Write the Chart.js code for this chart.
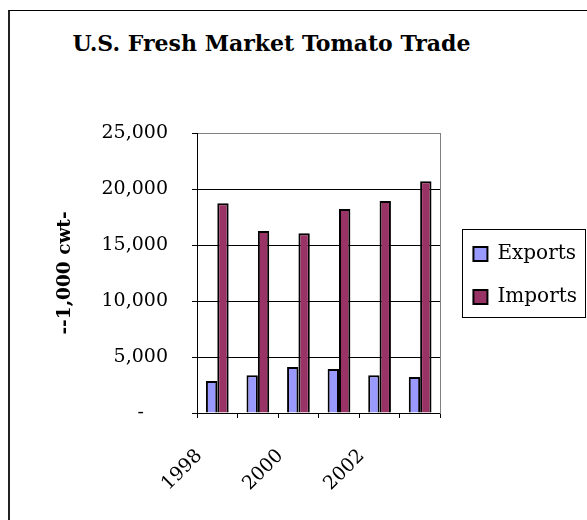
<!DOCTYPE html>
<html>
<head>
<meta charset="utf-8">
<script src="https://cdn.jsdelivr.net/npm/chart.js@4"></script>
<style>
  body { margin: 0; background: #fff; }
  #wrap { position: relative; width: 587px; height: 520px; overflow: hidden; }
  #frame { position: absolute; left: 8px; top: 10px; width: 620px; height: 560px;
           border-top: 1px solid #000; border-left: 2px solid #222; }
  #title { position: absolute; left: 0; top: 30px; width: 543px; text-align: center;
           font: bold 22px "DejaVu Serif"; line-height: 26px; color: #000; }
  canvas { position: absolute; left: 0; top: 0; }
</style>
</head>
<body>
<div id="wrap">
  <div id="frame"></div>
  <div id="title">U.S. Fresh Market Tomato Trade</div>
  <canvas id="chart" width="587" height="520"></canvas>
</div>
<script>
const years = ["1998", "1999", "2000", "2001", "2002", "2003"];
const exportsCwt = [2860, 3360, 4110, 3930, 3360, 3210];
const importsCwt = [18720, 16250, 16040, 18210, 18930, 20690];
const yTicks = [0, 5000, 10000, 15000, 20000, 25000];

const serif = "DejaVu Serif";

// Excel-style frame around the legend
const legendBox = {
  id: "legendBox",
  afterDraw(chart) {
    const lg = chart.legend;
    const { top, bottom } = chart.chartArea;
    const mid = (top + bottom) / 2;
    const ctx = chart.ctx;
    ctx.save();
    ctx.strokeStyle = "#000";
    ctx.lineWidth = 1;
    ctx.strokeRect(Math.round(lg.left + 12) + 0.5, Math.round(mid - 44) + 0.5, 123, 88);
    ctx.restore();
  },
};

new Chart(document.getElementById("chart"), {
  type: "bar",
  data: {
    labels: years,
    datasets: [
      {
        label: "Exports",
        data: exportsCwt,
        backgroundColor: "#9999FF",
        borderColor: "#000",
        borderWidth: 2,
      },
      {
        label: "Imports",
        data: importsCwt,
        backgroundColor: "#993366",
        borderColor: "#000",
        borderWidth: 2,
      },
    ],
  },
  options: {
    responsive: false,
    animation: false,
    layout: { padding: { top: 133, left: 9, right: 0, bottom: 0 } },
    categoryPercentage: 0.56,
    barPercentage: 1,
    plugins: {
      title: { display: false },
      tooltip: { enabled: false },
      legend: {
        position: "right",
        fullSize: false,
        maxWidth: 138,
        title: { display: true, text: " ", padding: 0, font: { size: 4 } },
        labels: {
          boxWidth: 14,
          boxHeight: 14,
          padding: 23,
          color: "#000",
          font: { family: serif, size: 20 },
        },
      },
    },
    scales: {
      x: {
        border: { color: "#000", width: 1 },
        grid: {
          offset: true,
          drawOnChartArea: false,
          tickLength: 5,
          tickColor: "#000",
        },
        ticks: {
          autoSkip: false,
          minRotation: 45,
          maxRotation: 45,
          padding: 27,
          labelOffset: -18,
          color: "#000",
          font: { family: serif, size: 19 },
          callback: function (value, index) {
            return index % 2 === 0 ? this.getLabelForValue(value) : "";
          },
        },
        afterFit(scale) {
          scale.height = 107;
        },
      },
      y: {
        min: 0,
        max: 25000,
        afterBuildTicks(scale) {
          scale.ticks = yTicks.map((v) => ({ value: v }));
        },
        border: { color: "#000", width: 1 },
        grid: {
          color: (c) => (c.tick && c.tick.value === 25000 ? "#808080" : "#000"),
          tickLength: 5,
          tickColor: "#000",
        },
        ticks: {
          padding: 24,
          color: "#000",
          font: { family: serif, size: 19 },
          callback: (v) => (v === 0 ? "-    " : v.toLocaleString("en-US")),
        },
        title: {
          display: true,
          text: "--1,000 cwt-",
          color: "#000",
          font: { family: serif, size: 18.5, weight: "bold" },
          padding: { top: 45, bottom: 0 },
        },
        afterFit(scale) {
          scale.width = 188;
        },
      },
      y2: {
        type: "linear",
        position: "right",
        display: true,
        border: { color: "#808080", width: 1 },
        grid: { drawOnChartArea: false, drawTicks: false },
        ticks: { display: false },
        afterFit(scale) {
          scale.width = 10;
        },
      },
    },
  },
  plugins: [legendBox],
});
</script>
</body>
</html>
